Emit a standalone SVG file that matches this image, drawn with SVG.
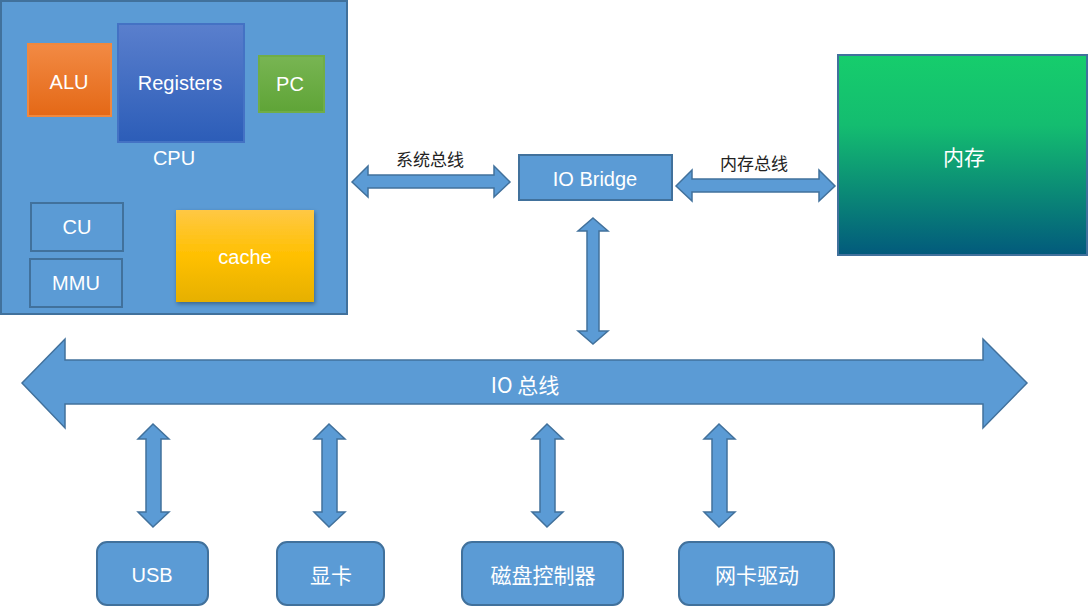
<svg xmlns="http://www.w3.org/2000/svg" width="1090" height="606" viewBox="0 0 1090 606">
<style>
.blk{fill:#5b9bd5;stroke:#41719c;stroke-width:2}
.arr{fill:#5b9bd5;stroke:#41719c;stroke-width:1.5;stroke-linejoin:miter}
.t{font-family:"Liberation Sans","Noto Sans CJK SC",sans-serif;fill:#fff;text-anchor:middle;dominant-baseline:central}
.d{font-family:"Noto Sans CJK SC","Liberation Sans",sans-serif;fill:#222;text-anchor:middle;dominant-baseline:central;font-size:17px}
.c{font-family:"Noto Sans CJK SC","Liberation Sans",sans-serif;fill:#fff;text-anchor:middle;dominant-baseline:central;font-size:21px}
</style>
<defs>
<linearGradient id="gAlu" x1="0" y1="0" x2="0" y2="1"><stop offset="0" stop-color="#f28a44"/><stop offset="1" stop-color="#e46816"/></linearGradient>
<linearGradient id="gReg" x1="0" y1="0" x2="0" y2="1"><stop offset="0" stop-color="#5a7fcd"/><stop offset="1" stop-color="#2c5db8"/></linearGradient>
<linearGradient id="gPc" x1="0" y1="0" x2="0" y2="1"><stop offset="0" stop-color="#78b553"/><stop offset="1" stop-color="#5fa437"/></linearGradient>
<linearGradient id="gCache" x1="0" y1="0" x2="0" y2="1"><stop offset="0" stop-color="#ffc845"/><stop offset="0.5" stop-color="#ffc000"/><stop offset="1" stop-color="#e6b000"/></linearGradient>
<linearGradient id="gMem" x1="0" y1="0" x2="0" y2="1"><stop offset="0" stop-color="#16cd6c"/><stop offset="0.35" stop-color="#14bd70"/><stop offset="1" stop-color="#025a7c"/></linearGradient>
<filter id="sh" x="-10%" y="-10%" width="125%" height="125%"><feDropShadow dx="1" dy="2" stdDeviation="2" flood-color="#000" flood-opacity="0.35"/></filter>
</defs>

<g id="cpu">
<rect class="blk" x="1" y="1" width="346" height="313"/>
<text class="t" x="174" y="158" font-size="20">CPU</text>
</g>
<g id="alu">
<rect x="28" y="44" width="83" height="72" fill="url(#gAlu)" stroke="#f0883e" stroke-width="2"/>
<text class="t" x="69" y="82" font-size="20">ALU</text>
</g>
<g id="registers">
<rect x="118" y="24" width="126" height="118" fill="url(#gReg)" stroke="#4472c4" stroke-width="2"/>
<text class="t" x="180" y="83" font-size="20">Registers</text>
</g>
<g id="pc">
<rect x="259" y="56" width="65" height="56" fill="url(#gPc)" stroke="#70ad47" stroke-width="2"/>
<text class="t" x="290" y="84" font-size="20">PC</text>
</g>
<g id="cu">
<rect x="31" y="203" width="92" height="48" fill="none" stroke="#41719c" stroke-width="2"/>
<text class="t" x="77" y="227" font-size="20">CU</text>
</g>
<g id="mmu">
<rect x="30" y="259" width="92" height="48" fill="none" stroke="#41719c" stroke-width="2"/>
<text class="t" x="76" y="283" font-size="20">MMU</text>
</g>
<g id="cache">
<rect x="176" y="210" width="138" height="92" fill="url(#gCache)" filter="url(#sh)"/>
<text class="t" x="245" y="257" font-size="20">cache</text>
</g>

<g id="iobridge">
<rect class="blk" x="519" y="155" width="153" height="45"/>
<text class="t" x="595" y="179" font-size="20">IO Bridge</text>
</g>
<g id="memory">
<rect x="838" y="55" width="249" height="200" fill="url(#gMem)" stroke="#41719c" stroke-width="2"/>
<text class="c" x="964" y="156">内存</text>
</g>

<g id="usb">
<rect class="blk" x="97" y="542" width="111" height="63" rx="10"/>
<text class="t" x="152" y="575" font-size="20">USB</text>
</g>
<g id="gpu">
<rect class="blk" x="277" y="542" width="107" height="63" rx="10"/>
<text class="c" x="331" y="574">显卡</text>
</g>
<g id="disk">
<rect class="blk" x="462" y="542" width="161" height="63" rx="10"/>
<text class="c" x="543" y="574">磁盘控制器</text>
</g>
<g id="nic">
<rect class="blk" x="679" y="542" width="155" height="63" rx="10"/>
<text class="c" x="757" y="574">网卡驱动</text>
</g>

<g id="connectors">
<polygon class="arr" points="352,182 368,166 368,175 494,175 494,166 510,182 494,197 494,188 368,188 368,197"/>
<text class="d" x="430" y="158">系统总线</text>
<polygon class="arr" points="676,186 692,170 692,179 819,179 819,170 835,186 819,201 819,192 692,192 692,201"/>
<text class="d" x="754" y="162">内存总线</text>
<polygon class="arr" points="593,218 608,231 599,231 599,331 608,331 593,344 578,331 587,331 587,231 578,231"/>
<polygon class="arr" points="22,383 65,339 65,360 983,360 983,339 1027,383 983,428 983,404 65,404 65,428"/>
<text class="c" x="525" y="384" font-size="20">IO 总线</text>
<polygon class="arr" points="153,424 169,439 161,439 161,512 169,512 153,527 138,512 146,512 146,439 138,439"/>
<polygon class="arr" points="329,424 345,439 337,439 337,512 345,512 329,527 314,512 322,512 322,439 314,439"/>
<polygon class="arr" points="547,424 563,439 555,439 555,512 563,512 547,527 532,512 540,512 540,439 532,439"/>
<polygon class="arr" points="719,424 735,439 727,439 727,512 735,512 719,527 704,512 712,512 712,439 704,439"/>
</g>
</svg>
